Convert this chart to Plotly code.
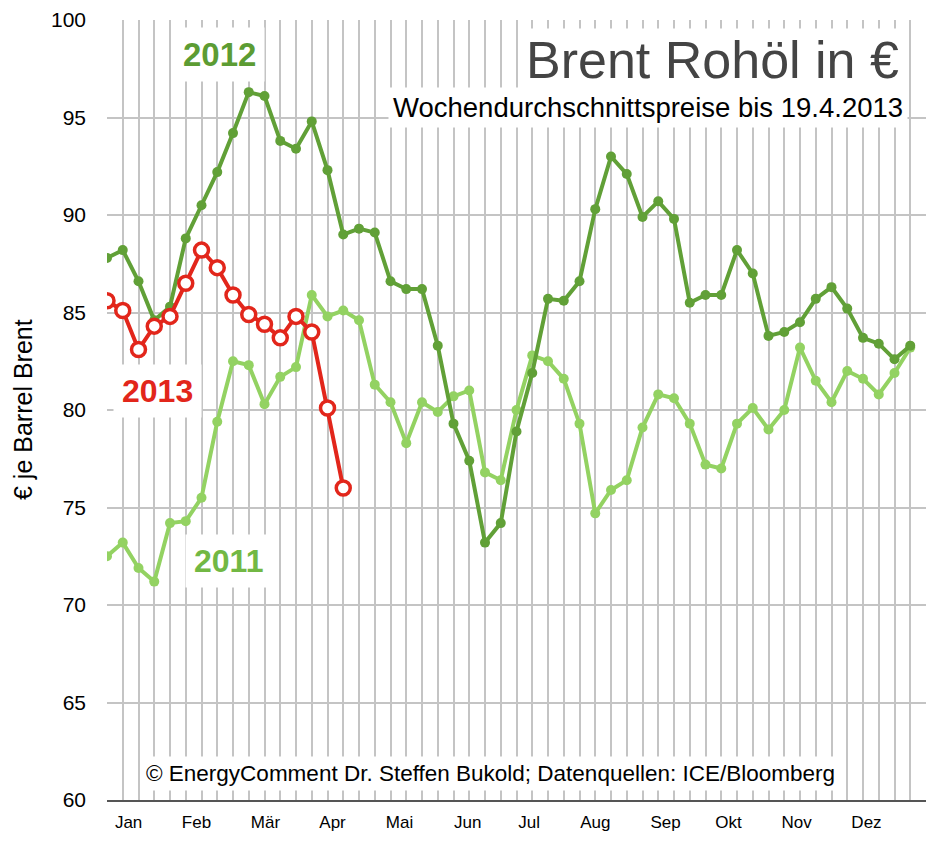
import plotly.graph_objects as go

# ---- data (weekly average Brent price in EUR per barrel) ----
weeks_2011 = list(range(52))
brent_2011 = [72.5, 73.2, 71.9, 71.2, 74.2, 74.3, 75.5, 79.4, 82.5, 82.3,
              80.3, 81.7, 82.2, 85.9, 84.8, 85.1, 84.6, 81.3, 80.4, 78.3,
              80.4, 79.9, 80.7, 81.0, 76.8, 76.4, 80.0, 82.8, 82.5, 81.6,
              79.3, 74.7, 75.9, 76.4, 79.1, 80.8, 80.6, 79.3, 77.2, 77.0,
              79.3, 80.1, 79.0, 80.0, 83.2, 81.5, 80.4, 82.0, 81.6, 80.8,
              81.9, 83.2]

weeks_2012 = list(range(52))
brent_2012 = [87.8, 88.2, 86.6, 84.6, 85.3, 88.8, 90.5, 92.2, 94.2, 96.3,
              96.1, 93.8, 93.4, 94.8, 92.3, 89.0, 89.3, 89.1, 86.6, 86.2,
              86.2, 83.3, 79.3, 77.4, 73.2, 74.2, 78.9, 81.9, 85.7, 85.6,
              86.6, 90.3, 93.0, 92.1, 89.9, 90.7, 89.8, 85.5, 85.9, 85.9,
              88.2, 87.0, 83.8, 84.0, 84.5, 85.7, 86.3, 85.2, 83.7, 83.4,
              82.6, 83.3]

weeks_2013 = list(range(16))
brent_2013 = [85.6, 85.1, 83.1, 84.3, 84.8, 86.5, 88.2, 87.3, 85.9, 84.9,
              84.4, 83.7, 84.8, 84.0, 80.1, 76.0]

month_labels = ["Jan", "Feb", "Mär", "Apr", "Mai", "Jun", "Jul", "Aug",
                "Sep", "Okt", "Nov", "Dez"]
month_tick_pos = [1.37, 5.68, 10.06, 14.32, 18.57, 22.9, 26.8, 31.0,
                  35.46, 39.46, 43.78, 48.22]

FONT = "Liberation Sans, Arial, Helvetica, sans-serif"
C2011 = "#93d262"
C2012 = "#61a037"
C2013 = "#e2261b"
GRID = "#c4c4c4"

# plot-area geometry in figure pixels
L, R, T, B = 99, 30, 12, 49
W, H = 948, 841
PW, PH = W - L - R, H - T - B


def px(x):
    return (x - 8 - L) / PW


def py(y):
    return (H - B - (y - 8)) / PH


fig = go.Figure()
fig.add_trace(go.Scatter(
    x=weeks_2011, y=brent_2011, mode="lines+markers", name="2011",
    line=dict(color=C2011, width=4),
    marker=dict(color=C2011, size=10)))
fig.add_trace(go.Scatter(
    x=weeks_2012, y=brent_2012, mode="lines+markers", name="2012",
    line=dict(color=C2012, width=4),
    marker=dict(color=C2012, size=10)))
fig.add_trace(go.Scatter(
    x=weeks_2013, y=brent_2013, mode="lines+markers", name="2013",
    line=dict(color=C2013, width=4),
    marker=dict(color="white", size=14, line=dict(color=C2013, width=3.5))))

annotations = [
    dict(text="Brent Rohöl in €", xref="paper", yref="paper",
         x=px(902), y=py(60), xanchor="right", yanchor="middle",
         showarrow=False, font=dict(family=FONT, size=52, color="#444444"),
         bgcolor="white", borderpad=2),
    dict(text="Wochendurchschnittspreise bis 19.4.2013", xref="paper", yref="paper",
         x=px(908), y=py(107), xanchor="right", yanchor="middle",
         showarrow=False, font=dict(family=FONT, size=27.5, color="black"),
         bgcolor="white", borderpad=4),
    dict(text="<b>2012</b>", xref="paper", yref="paper",
         x=px(219), y=py(55), xanchor="center", yanchor="middle",
         showarrow=False, font=dict(family=FONT, size=33, color="#5c9c33"),
         bgcolor="white", borderpad=8),
    dict(text="<b>2013</b>", xref="paper", yref="paper",
         x=px(157), y=py(391), xanchor="center", yanchor="middle",
         showarrow=False, font=dict(family=FONT, size=32, color=C2013),
         bgcolor="white", borderpad=8),
    dict(text="<b>2011</b>", xref="paper", yref="paper",
         x=px(228), y=py(561), xanchor="center", yanchor="middle",
         showarrow=False, font=dict(family=FONT, size=32, color="#72b844"),
         bgcolor="white", borderpad=8),
    dict(text="© EnergyComment Dr. Steffen Bukold; Datenquellen: ICE/Bloomberg",
         xref="paper", yref="paper",
         x=px(490), y=py(773), xanchor="center", yanchor="middle",
         showarrow=False, font=dict(family=FONT, size=22.5, color="black"),
         bgcolor="white", borderpad=4),
    dict(text="€ je Barrel Brent", xref="paper", yref="paper",
         x=px(23), y=py(410), xanchor="center", yanchor="middle",
         textangle=-90, showarrow=False, font=dict(family=FONT, size=25, color="black")),
]

fig.update_layout(
    width=W, height=H,
    margin=dict(l=L, r=R, t=T, b=B),
    paper_bgcolor="white", plot_bgcolor="white",
    showlegend=False,
    font=dict(family=FONT, color="black"),
    annotations=annotations,
    xaxis=dict(
        range=[0, 52], tickvals=month_tick_pos, ticktext=month_labels,
        showgrid=False, zeroline=False, ticks="", automargin=False,
        tickfont=dict(family=FONT, size=17, color="black"),
        ticklabelstandoff=6,
        showline=True, linecolor="#555555", linewidth=2,
        minor=dict(tick0=0, dtick=1, showgrid=True, gridcolor=GRID, gridwidth=2, ticks=""),
        fixedrange=True,
    ),
    yaxis=dict(
        range=[60, 100], tick0=60, dtick=5,
        showgrid=True, gridcolor=GRID, gridwidth=2, zeroline=False,
        tickfont=dict(family=FONT, size=21, color="black"),
        ticks="", ticklabelstandoff=20, automargin=False,
        showline=False, fixedrange=True,
    ),
)

fig.write_html("out.html")
